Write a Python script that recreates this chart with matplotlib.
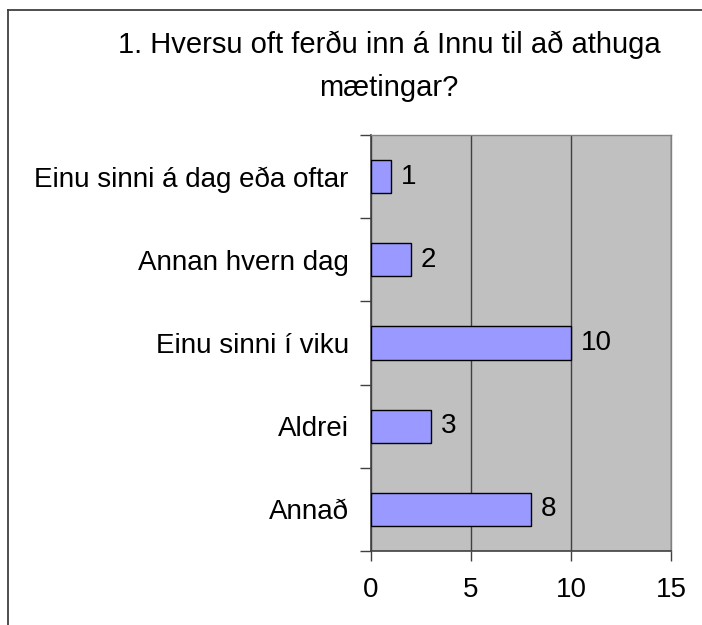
import matplotlib.pyplot as plt
from matplotlib.lines import Line2D

plt.rcParams['font.family'] = ['Liberation Sans', 'DejaVu Sans']

categories = ['Einu sinni á dag eða oftar', 'Annan hvern dag', 'Einu sinni í viku',
              'Aldrei', 'Annað']
counts = [1, 2, 10, 3, 8]
x_ticks = [0, 5, 10, 15]
title = '1. Hversu oft ferðu inn á Innu til að athuga\nmætingar?'

W, H = 702, 625
fig = plt.figure(figsize=(W / 100, H / 100), dpi=100)
fig.patch.set_facecolor('white')

# plot area in pixels: x 371..671, y 135..551
ax = fig.add_axes([371 / W, 1 - 551 / H, 300 / W, 416 / H])
ax.set_facecolor('#C0C0C0')

pos = list(range(len(categories)))
ax.barh(pos, counts, height=0.4, color='#9999FF', edgecolor='black', linewidth=1, zorder=3)
for p, v in zip(pos, counts):
    ax.text(v + 0.5, p, str(v), va='center', ha='left', fontsize=20, zorder=4)

ax.set_xlim(0, 15)
ax.set_ylim(len(categories) - 0.5, -0.5)
ax.set_xticks(x_ticks)
ax.set_xticklabels([str(t) for t in x_ticks], fontsize=20)
ax.set_yticks(pos)
ax.set_yticklabels(categories, fontsize=20)
ax.tick_params(axis='y', length=0, pad=16)
ax.tick_params(axis='x', length=7, width=1, color='#404040', direction='out', pad=12)

# category boundary ticks on the left
ax.set_yticks([p - 0.5 for p in pos] + [len(categories) - 0.5], minor=True)
ax.tick_params(axis='y', which='minor', length=8, width=1, color='#404040', direction='out')

ax.xaxis.grid(True, color='#404040', linewidth=1)
ax.set_axisbelow(True)
for s in ['left', 'bottom']:
    ax.spines[s].set_color('#404040')
    ax.spines[s].set_linewidth(1.2)
for s in ['top', 'right']:
    ax.spines[s].set_color('#808080')
    ax.spines[s].set_linewidth(1)

fig.text(389 / W, 1 - 31 / H, title, ha='center', va='top', fontsize=21, linespacing=1.65)

# outer chart frame (left and top edges visible)
fig.add_artist(Line2D([8 / W, 8 / W], [0, 1 - 10 / H], color='#404040', linewidth=1.3,
                      transform=fig.transFigure))
fig.add_artist(Line2D([8 / W, 1], [1 - 10 / H, 1 - 10 / H], color='#404040', linewidth=1.3,
                      transform=fig.transFigure))

fig.savefig('out.png', dpi=100)
